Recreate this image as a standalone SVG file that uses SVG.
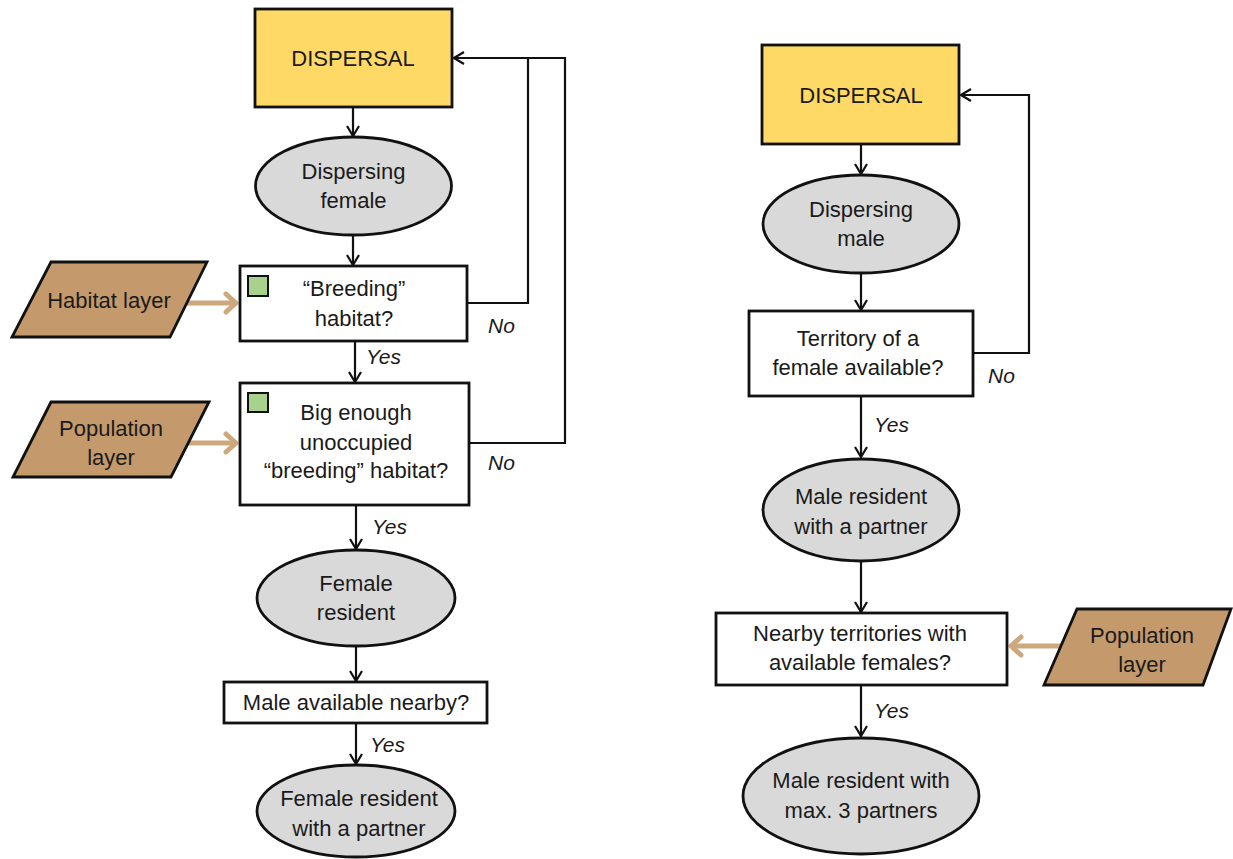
<svg xmlns="http://www.w3.org/2000/svg" width="1233" height="859" viewBox="0 0 1233 859">
<style>
.t{font-family:"Liberation Sans",Arial,sans-serif;font-size:22px;fill:#1a1a1a;text-anchor:middle}
.lbl{font-family:"Liberation Sans",Arial,sans-serif;font-size:21px;font-style:italic;fill:#1a1a1a}
.start{fill:#FFD966;stroke:#111;stroke-width:2.8}
.state{fill:#D9D9D9;stroke:#111;stroke-width:2.8}
.dec{fill:#fff;stroke:#111;stroke-width:2.8}
.layer{fill:#C49A6C;stroke:#111;stroke-width:2.8}
.sq{fill:#A9D18E;stroke:#111;stroke-width:2}
.c{fill:none;stroke:#111;stroke-width:2.2}
.tan{fill:none;stroke:#CDA87C;stroke-width:5}
</style>
<defs>
<marker id="ah" viewBox="0 0 12 14" markerWidth="12" markerHeight="14" refX="11" refY="7" orient="auto" markerUnits="userSpaceOnUse">
<path d="M1,1 L11,7 L1,13" fill="none" stroke="#111" stroke-width="2.2"/>
</marker>
<marker id="ahT" viewBox="0 0 16 24" markerWidth="16" markerHeight="24" refX="13" refY="12" orient="auto" markerUnits="userSpaceOnUse">
<path d="M3,3 L13,12 L3,21" fill="none" stroke="#CDA87C" stroke-width="5" stroke-linecap="round" stroke-linejoin="round"/>
</marker>
</defs>

<g id="connectors">
<line class="c" x1="353" y1="107" x2="353" y2="136" marker-end="url(#ah)"/>
<line class="c" x1="353" y1="235" x2="353" y2="265" marker-end="url(#ah)"/>
<line class="c" x1="355" y1="341" x2="355" y2="382" marker-end="url(#ah)"/>
<line class="c" x1="356" y1="505" x2="356" y2="549" marker-end="url(#ah)"/>
<line class="c" x1="356" y1="647" x2="356" y2="681" marker-end="url(#ah)"/>
<line class="c" x1="356" y1="723" x2="356" y2="764" marker-end="url(#ah)"/>
<polyline class="c" points="467,303 528,303 528,58 454,58" marker-end="url(#ah)"/>
<polyline class="c" points="469,443 565,443 565,58 528,58"/>
<line class="tan" x1="186" y1="303" x2="236" y2="303" marker-end="url(#ahT)"/>
<line class="tan" x1="186" y1="443" x2="236" y2="443" marker-end="url(#ahT)"/>

<line class="c" x1="861" y1="144" x2="861" y2="174" marker-end="url(#ah)"/>
<line class="c" x1="861" y1="273" x2="861" y2="310" marker-end="url(#ah)"/>
<line class="c" x1="861" y1="396" x2="861" y2="457" marker-end="url(#ah)"/>
<line class="c" x1="861" y1="561" x2="861" y2="612" marker-end="url(#ah)"/>
<line class="c" x1="861" y1="685" x2="861" y2="736" marker-end="url(#ah)"/>
<polyline class="c" points="973,353 1029,353 1029,95 961,95" marker-end="url(#ah)"/>
<line class="tan" x1="1063" y1="646" x2="1011" y2="646" marker-end="url(#ahT)"/>

<text class="lbl" x="366" y="364">Yes</text>
<text class="lbl" x="372" y="534">Yes</text>
<text class="lbl" x="370" y="752">Yes</text>
<text class="lbl" x="488" y="333">No</text>
<text class="lbl" x="488" y="470">No</text>
<text class="lbl" x="874" y="432">Yes</text>
<text class="lbl" x="874" y="718">Yes</text>
<text class="lbl" x="988" y="383">No</text>
</g>

<g id="dispersal-f">
<rect class="start" x="255" y="9" width="197" height="98"/>
<text class="t" x="353" y="66">DISPERSAL</text>
</g>
<g id="dispersing-female">
<ellipse class="state" cx="353.5" cy="186" rx="98" ry="49"/>
<text class="t" x="353.5" y="179">Dispersing</text>
<text class="t" x="353.5" y="208">female</text>
</g>
<g id="breeding-habitat">
<rect class="dec" x="240" y="266" width="227" height="75"/>
<rect class="sq" x="248" y="276" width="20" height="20"/>
<text class="t" x="354" y="296">“Breeding”</text>
<text class="t" x="354" y="326">habitat?</text>
</g>
<g id="big-enough">
<rect class="dec" x="240" y="383" width="229" height="122"/>
<rect class="sq" x="248" y="393" width="20" height="19"/>
<text class="t" x="356" y="420">Big enough</text>
<text class="t" x="356" y="450">unoccupied</text>
<text class="t" x="356" y="478">“breeding” habitat?</text>
</g>
<g id="habitat-layer">
<polygon class="layer" points="51,262 207,262 170,337 12,337"/>
<text class="t" x="109" y="308">Habitat layer</text>
</g>
<g id="population-layer-left">
<polygon class="layer" points="51,402 209,402 171,477 13,477"/>
<text class="t" x="111" y="436">Population</text>
<text class="t" x="111" y="465">layer</text>
</g>
<g id="female-resident">
<ellipse class="state" cx="356" cy="598" rx="99" ry="48"/>
<text class="t" x="356" y="591">Female</text>
<text class="t" x="356" y="620">resident</text>
</g>
<g id="male-available">
<rect class="dec" x="224" y="682" width="263" height="41"/>
<text class="t" x="356" y="710">Male available nearby?</text>
</g>
<g id="female-partner">
<ellipse class="state" cx="356" cy="811" rx="99" ry="46"/>
<text class="t" x="359" y="806">Female resident</text>
<text class="t" x="359" y="836">with a partner</text>
</g>

<g id="dispersal-m">
<rect class="start" x="762" y="45" width="197" height="99"/>
<text class="t" x="861" y="103">DISPERSAL</text>
</g>
<g id="dispersing-male">
<ellipse class="state" cx="861" cy="224" rx="98" ry="49"/>
<text class="t" x="861" y="217">Dispersing</text>
<text class="t" x="861" y="246">male</text>
</g>
<g id="territory">
<rect class="dec" x="749" y="311" width="224" height="85"/>
<text class="t" x="858" y="346">Territory of a</text>
<text class="t" x="858" y="375">female available?</text>
</g>
<g id="male-partner">
<ellipse class="state" cx="861" cy="510" rx="98" ry="51"/>
<text class="t" x="861" y="504">Male resident</text>
<text class="t" x="861" y="534">with a partner</text>
</g>
<g id="nearby">
<rect class="dec" x="716" y="613" width="291" height="72"/>
<text class="t" x="860" y="641">Nearby territories with</text>
<text class="t" x="860" y="670">available females?</text>
</g>
<g id="population-layer-right">
<polygon class="layer" points="1077,609 1231,609 1203,685 1044,685"/>
<text class="t" x="1142" y="643">Population</text>
<text class="t" x="1142" y="672">layer</text>
</g>
<g id="male-3">
<ellipse class="state" cx="861" cy="796" rx="118" ry="58"/>
<text class="t" x="861" y="788">Male resident with</text>
<text class="t" x="861" y="818">max. 3 partners</text>
</g>
</svg>
